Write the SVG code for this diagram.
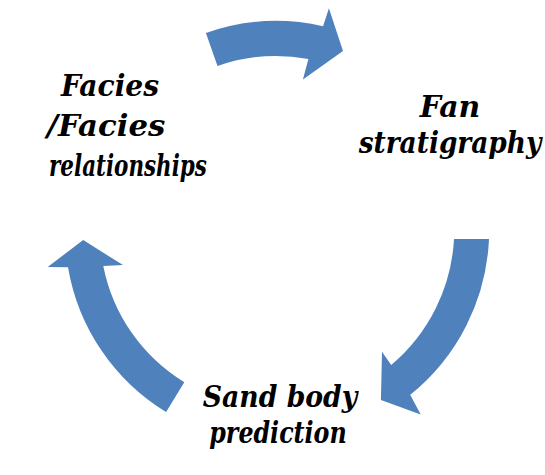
<svg xmlns="http://www.w3.org/2000/svg" width="545" height="475" viewBox="0 0 545 475">
  <style>
    .arrow { fill: #4F81BD; stroke: none; }
    .label { font-family: DejaVu Serif, serif; font-style: italic; font-weight: bold; font-size: 29px; fill: #000; text-anchor: middle; }
  </style>
  <rect width="545" height="475" fill="#fff"/>
  <!-- curved cycle arrows, all on one circle centred at (276,232) -->
  <g id="connectors">
    <path class="arrow" d="M205.9,33 A211,211 0 0 1 323.1,26.3 L328.9,8.2 L343,51 L302.9,79.4 L308.4,59 A176,176 0 0 0 217.5,66 Z"/>
    <path class="arrow" d="M489,239 A212,212 0 0 1 410.2,394.8 L420.7,414.6 L380.9,399.9 L382,351.8 L391.2,365 A177,177 0 0 0 454,239 Z"/>
    <path class="arrow" d="M166.1,412.1 A211,211 0 0 1 68,267.2 L47.7,266.9 L83.2,240.1 L123,265.1 L103.3,265.9 A176,176 0 0 0 184.3,382.2 Z"/>
  </g>
  <!-- labels: each line is centred on its own point and narrowed to fit -->
  <g id="facies">
    <text class="label" transform="translate(110 96) scale(0.97 1)">Facies</text>
    <text class="label" transform="translate(106 136) scale(1.06 1)">/Facies</text>
    <text class="label" transform="translate(128 176) scale(0.74 1)">relationships</text>
  </g>
  <g id="fan-stratigraphy">
    <text class="label" transform="translate(450 117) scale(1.03 1)">Fan</text>
    <text class="label" transform="translate(450 153) scale(0.91 1)">stratigraphy</text>
  </g>
  <g id="sand-body">
    <text class="label" transform="translate(280 407) scale(0.92 1)">Sand body</text>
    <text class="label" transform="translate(278 443) scale(0.82 1)">prediction</text>
  </g>
</svg>
